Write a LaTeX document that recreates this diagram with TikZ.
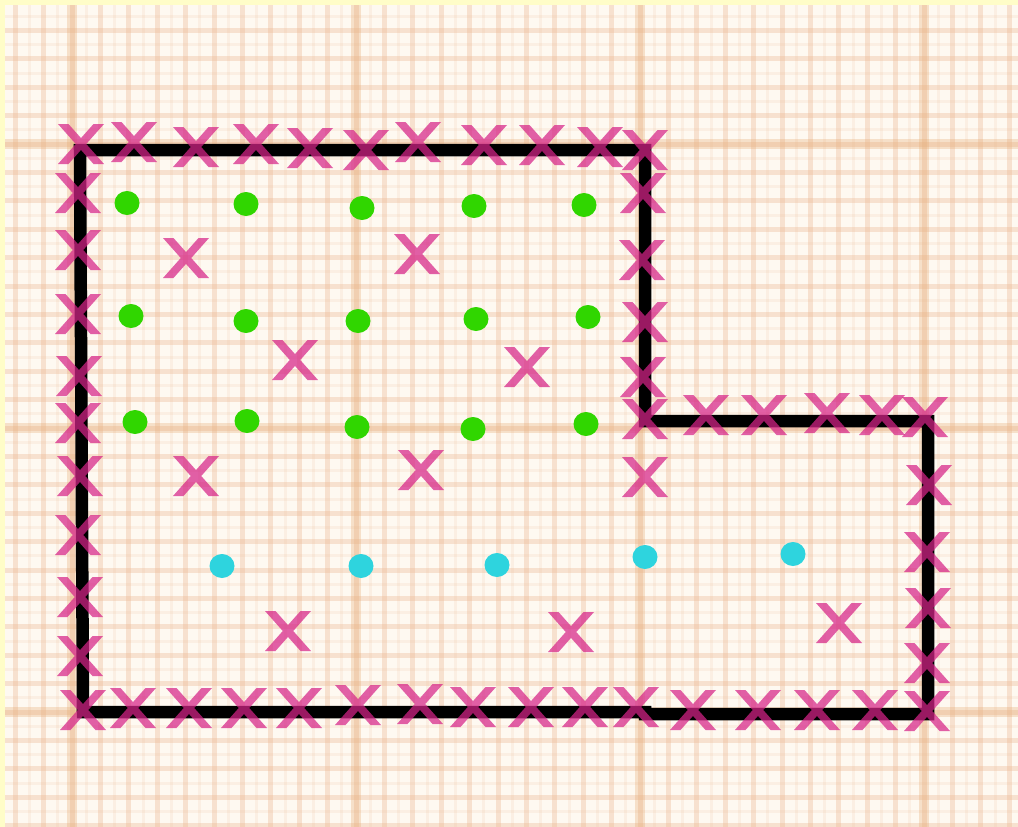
\documentclass[tikz,border=0pt]{standalone}
\definecolor{xpink}{RGB}{214,36,136}
\definecolor{dgreen}{RGB}{48,214,0}
\definecolor{dcyan}{RGB}{46,212,222}
\definecolor{paper}{RGB}{254,249,241}
\definecolor{gline}{RGB}{236,184,148}
\definecolor{gmajor}{RGB}{228,168,110}
\definecolor{framecol}{RGB}{255,253,200}
\tikzset{
  xm/.pic={\fill[xpink,fill opacity=0.72]
    (-23,-20) -- (-12.5,-20) -- (23,20) -- (12.5,20) -- cycle
    (12.5,-20) -- (23,-20) -- (-12.5,20) -- (-23,20) -- cycle;},
  gridfine/.style={gline,line width=5pt,opacity=0.36},
  gridhalf/.style={gline,line width=3pt,opacity=0.14},
  gridmajor/.style={gmajor,line width=10pt,opacity=0.3},
  outline/.style={black,line width=12.5pt,line join=miter},
  gdot/.style={fill=dgreen},
  cdot/.style={fill=dcyan}
}
\begin{document}
\begin{tikzpicture}[x=1pt,y=-1pt]
\useasboundingbox (0,0) rectangle (1018,827);
\begin{scope}
\clip (0,0) rectangle (1018,827);
% paper
\fill[paper] (0,0) rectangle (1018,827);
\foreach \i in {0,...,37} {
  \draw[gridhalf] ({1+28.4*\i},0) -- ++(0,827);
  \draw[gridfine] ({-13.2+28.4*\i},0) -- ++(0,827);
}
\foreach \i in {0,...,31} {
  \draw[gridhalf] (0,{-12.2+28.4*\i}) -- ++(1018,0);
  \draw[gridfine] (0,{-26.4+28.4*\i}) -- ++(1018,0);
}
\foreach \x in {72,356,640,924} \draw[gridmajor] (\x,0) -- (\x,827);
\foreach \y in {144,428,712} \draw[gridmajor] (0,\y) -- (1018,\y);
% frame
\fill[framecol] (0,0) rectangle (5,827);
\fill[framecol] (0,0) rectangle (1018,5);
% outline
\draw[outline] (80,150) -- (645,150) -- (645,421) -- (928,421) -- (928,714)
  -- (645,714) -- (645,712) -- (83,712) -- cycle;
% X marks
\foreach \p in {(81,144),(134,142),(196,147),(256,144),(310,148),(366,150),(418,142),(484,145),(542,145),(600,147),(645,150),
  (78,193),(78,250),(78,314),(79,376),(78,423),(80,476),(78,535),(80,597),(80,656),
  (643,193),(642,260),(645,322),(643,377),(645,419),(645,477),
  (706,415),(764,415),(827,413),(882,415),(925,417),
  (929,485),(927,552),(928,608),(927,663),
  (83,710),(133,708),(189,708),(244,708),(299,708),(358,705),(420,704),(473,707),(531,707),(585,707),(636,707),(693,710),(758,710),(817,710),(875,710),(927,711),
  (186,258),(417,254),(295,360),(527,367),(196,476),(421,470),(288,631),(571,632),(839,623)}
  \pic at \p {xm};
% green dots
\foreach \p in {(127,203),(246,204),(362,208),(474,206),(584,205),
  (131,316),(246,321),(358,321),(476,319),(588,317),
  (135,422),(247,421),(357,427),(473,429),(586,424)}
  \fill[gdot] \p ellipse [x radius=12.5, y radius=12];
% cyan dots
\foreach \p in {(222,566),(361,566),(497,565),(645,557),(793,554)}
  \fill[cdot] \p ellipse [x radius=12.5, y radius=12];
\end{scope}
\end{tikzpicture}
\end{document}
